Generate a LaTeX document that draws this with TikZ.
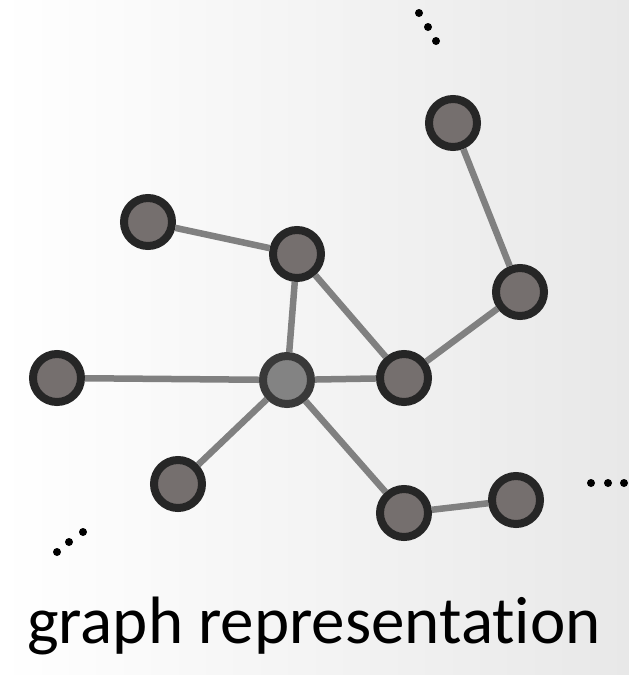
\documentclass[tikz,border=0pt]{standalone}
\usepackage{fontspec}
\setmainfont{Carlito}[Ligatures=NoCommon]
\usetikzlibrary{positioning}
\definecolor{nodefill}{HTML}{756F6E}
\definecolor{nodeline}{HTML}{262626}
\definecolor{hubfill}{HTML}{838383}
\definecolor{hubline}{HTML}{393939}
\definecolor{edgegray}{HTML}{808080}
\tikzstyle{vertex} = [circle, draw=nodeline, fill=nodefill, line width=8pt, minimum size=48pt, inner sep=0pt]
\tikzstyle{hub} = [vertex, draw=hubline, fill=hubfill]
\tikzstyle{link} = [draw=edgegray, line width=6.5pt]
\tikzstyle{dot} = [fill=black]

\begin{document}
\begin{tikzpicture}[x=1pt, y=-1pt]
		
		\shade[left color=white, right color=black!9] (0,0) rectangle (629,675);
		\useasboundingbox (0,0) rectangle (629,675);
		
		\node (n1) [vertex] at (148,222) {};
		\node (n2) [vertex] at (297,254) {};
		\node (n3) [vertex] at (453,123) {};
		\node (n4) [vertex] at (520,292) {};
		\node (n5) [vertex] at (57,378) {};
		\node (hub) [hub] at (287,380) {};
		\node (n6) [vertex] at (404,378) {};
		\node (n7) [vertex] at (178,484) {};
		\node (n8) [vertex] at (404,513) {};
		\node (n9) [vertex] at (516,500) {};
		
		\draw [link] (n1) -- (n2);
		\draw [link] (n2) -- (hub);
		\draw [link] (n2) -- (n6);
		\draw [link] (n3) -- (n4);
		\draw [link] (n4) -- (n6);
		\draw [link] (n5) -- (hub);
		\draw [link] (hub) -- (n6);
		\draw [link] (hub) -- (n7);
		\draw [link] (hub) -- (n8);
		\draw [link] (n8) -- (n9);
		
		% ellipses
		\foreach \x/\y in {419/13, 428/27, 436/41, 57/552, 69/542, 83/532, 591/483, 608/483, 624/483}
		\fill [dot] (\x,\y) circle (4pt);
		
		\node (title) [anchor=base] at (314,643) {\fontsize{67}{80}\selectfont graph representation};
		
\end{tikzpicture}
\end{document}
